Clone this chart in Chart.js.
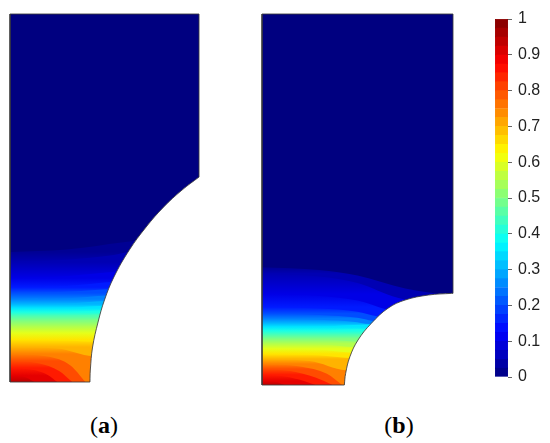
<!DOCTYPE html>
<html><head><meta charset="utf-8">
<script src="https://cdn.jsdelivr.net/npm/chart.js@4.4.1/dist/chart.umd.min.js"></script>
<style>
html,body{margin:0;padding:0;background:#fff;width:550px;height:443px;overflow:hidden;}
canvas{position:absolute;}
.lab{position:absolute;font-family:"Liberation Serif","DejaVu Serif",serif;font-size:24px;line-height:28px;color:#000;transform:translateX(-50%);white-space:nowrap;}
</style></head><body>
<canvas id="ca" width="191" height="370" style="left:9px;top:13px"></canvas>
<canvas id="cb" width="193" height="373" style="left:261px;top:13px"></canvas>
<canvas id="cc" width="58" height="376" style="left:495px;top:10px"></canvas>
<div class="lab" style="left:104px;top:411px">(<b>a</b>)</div>
<div class="lab" style="left:399px;top:411px">(<b>b</b>)</div>
<script>
// contour levels (value of each iso-line)
const levels = [0.02,0.05,0.10,0.15,0.20,0.25,0.30,0.35,0.40,0.45,0.50,0.55,0.60,0.65,0.70,0.75,0.80,0.85,0.90];
const peakValue = 0.94;

// panel (a): iso-lines, [x, y] in domain units (x 0..1, y 0..2), one list per level
const contoursA = [
  [[0,0.707],[0.3,0.72],[0.6,0.76],[1,0.80]],
  [[0,0.652],[0.3,0.665],[0.55,0.69],[0.65,0.71],[1,0.75]],
  [[0,0.565],[0.3,0.575],[0.58,0.60],[1,0.62]],
  [[0,0.515],[0.3,0.522],[0.55,0.545],[1,0.56]],
  [[0,0.484],[0.3,0.49],[0.53,0.505],[1,0.52]],
  [[0,0.451],[0.3,0.455],[0.52,0.47],[1,0.48]],
  [[0,0.424],[0.3,0.427],[0.51,0.44],[1,0.45]],
  [[0,0.402],[0.3,0.404],[0.5,0.415],[1,0.42]],
  [[0,0.380],[0.3,0.381],[0.5,0.39],[1,0.40]],
  [[0,0.359],[0.3,0.36],[0.49,0.367],[1,0.37]],
  [[0,0.332],[0.3,0.333],[0.48,0.34],[1,0.345]],
  [[0,0.300],[0.3,0.300],[0.47,0.305],[1,0.31]],
  [[0,0.266],[0.3,0.265],[0.46,0.265],[1,0.265]],
  [[0,0.230],[0.3,0.226],[0.45,0.22],[1,0.22]],
  [[0,0.190],[0.25,0.182],[0.44,0.14],[1,0.13]],
  [[0,0.152],[0.2,0.138],[0.32,0.09],[0.4,0]],
  [[0,0.114],[0.15,0.102],[0.26,0.06],[0.33,0]],
  [[0,0.076],[0.12,0.066],[0.2,0.038],[0.25,0]],
  [[0,0.035],[0.07,0.03],[0.13,0]]
];
// panel (a): hole boundary
const holeA = [[0.423,0],[0.425,0.065],[0.437,0.19],[0.466,0.326],[0.500,0.446],[0.550,0.571],[0.631,0.717],[0.720,0.842],[0.813,0.951],[0.910,1.043],[1,1.114]];

// panel (b): iso-lines
const contoursB = [
  [[0,0.635],[0.3,0.62],[0.5,0.59],[0.75,0.52],[1,0.48]],
  [[0,0.600],[0.3,0.585],[0.5,0.55],[0.71,0.47],[1,0.42]],
  [[0,0.490],[0.3,0.48],[0.5,0.455],[0.66,0.405],[1,0.35]],
  [[0,0.420],[0.3,0.412],[0.5,0.395],[0.6,0.37],[1,0.30]],
  [[0,0.385],[0.3,0.378],[0.5,0.362],[0.58,0.345],[1,0.28]],
  [[0,0.358],[0.3,0.352],[0.5,0.338],[0.56,0.325],[1,0.26]],
  [[0,0.334],[0.3,0.333],[0.54,0.33],[1,0.28]],
  [[0,0.313],[0.3,0.315],[0.54,0.325],[1,0.30]],
  [[0,0.292],[0.3,0.293],[0.52,0.30],[1,0.30]],
  [[0,0.270],[0.3,0.27],[0.5,0.272],[1,0.27]],
  [[0,0.248],[0.3,0.247],[0.49,0.235],[1,0.23]],
  [[0,0.222],[0.3,0.22],[0.48,0.205],[1,0.20]],
  [[0,0.195],[0.3,0.19],[0.47,0.175],[1,0.17]],
  [[0,0.167],[0.3,0.16],[0.46,0.145],[1,0.14]],
  [[0,0.140],[0.25,0.13],[0.44,0.08],[1,0.07]],
  [[0,0.113],[0.2,0.10],[0.34,0.06],[0.42,0]],
  [[0,0.086],[0.15,0.075],[0.28,0.04],[0.37,0]],
  [[0,0.055],[0.12,0.046],[0.22,0.022],[0.28,0]],
  [[0,0.022],[0.07,0.018],[0.12,0]]
];
// panel (b): hole boundary
const holeB = [[0.431,0],[0.438,0.063],[0.46,0.152],[0.503,0.243],[0.573,0.333],[0.66,0.414],[0.749,0.458],[0.871,0.485],[0.993,0.494],[1,0.494]];

// colour bar
const colorbarLevels = [0,0.025,0.05,0.075,0.10,0.125,0.15,0.175,0.20,0.225,0.25,0.275,0.30,0.325,0.35,0.375,0.40,0.425,0.45,0.475,
  0.50,0.525,0.55,0.575,0.60,0.625,0.65,0.675,0.70,0.725,0.75,0.775,0.80,0.825,0.85,0.875,0.90,0.925,0.95,0.975,1];
const colorbarTicks = [0,0.1,0.2,0.3,0.4,0.5,0.6,0.7,0.8,0.9,1];

function jet(v){
  const c = t => Math.round(255*Math.max(0,Math.min(1,1.5-Math.abs(4*v-t))));
  return 'rgb('+c(3)+','+c(2)+','+c(1)+')';
}
const toXY = pts => pts.map(p => ({x:p[0], y:p[1]}));
const edge = 'rgba(60,60,60,0.85)';

function bandFill(contours, i){
  const vTop = levels[i];
  const vBot = i+1 < levels.length ? levels[i+1] : peakValue;
  const yTop = contours[i][0][1];
  const yBot = i+1 < contours.length ? contours[i+1][0][1] : 0;
  return ctx => {
    const chart = ctx.chart;
    if (!chart.chartArea || !chart.scales.y) return jet(vTop);
    const ys = chart.scales.y;
    const g = chart.ctx.createLinearGradient(0, ys.getPixelForValue(yTop), 0, ys.getPixelForValue(yBot));
    g.addColorStop(0, jet(vTop));
    g.addColorStop(1, jet(vBot));
    return g;
  };
}

function panel(id, contours, hole){
  const ds = [];
  ds.push({data:[{x:0,y:2},{x:1,y:2}], fill:'origin', backgroundColor:jet(0), borderWidth:0, pointRadius:0, order:1000});
  contours.forEach((pts,i) => {
    ds.push({data:toXY(pts), fill:'origin', backgroundColor:bandFill(contours,i), borderWidth:0, pointRadius:0,
             cubicInterpolationMode:'monotone', order:900-i});
  });
  ds.push({data:toXY(hole), fill:'origin', backgroundColor:'#ffffff', borderColor:edge, borderWidth:1, pointRadius:0,
           tension:0.4, order:2, clip:false});
  const top = hole[hole.length-1];
  ds.push({data:[{x:1,y:top[1]},{x:1,y:2},{x:0,y:2},{x:0,y:0},{x:hole[0][0],y:0}], fill:false, borderColor:edge,
           borderWidth:1, pointRadius:0, tension:0, order:1, clip:false});
  new Chart(document.getElementById(id), {
    type:'line',
    data:{datasets:ds},
    options:{responsive:false, animation:false, events:[], layout:{padding:1},
      plugins:{legend:{display:false}, tooltip:{enabled:false}},
      scales:{x:{type:'linear', min:0, max:1, display:false}, y:{type:'linear', min:0, max:2, display:false}}}
  });
}
panel('ca', contoursA, holeA);
panel('cb', contoursB, holeB);

const cbSets = [];
for (let i=0;i<colorbarLevels.length-1;i++){
  const lo = colorbarLevels[i], hi = colorbarLevels[i+1];
  cbSets.push({data:[[lo,hi]], backgroundColor:jet((lo+hi)/2), borderColor:jet((lo+hi)/2), borderWidth:0.5,
               borderSkipped:false, barPercentage:1, categoryPercentage:1});
}
new Chart(document.getElementById('cc'), {
  type:'bar',
  data:{labels:[''], datasets:cbSets},
  options:{responsive:false, animation:false, events:[], layout:{padding:{top:9,bottom:9,left:0,right:0}},
    plugins:{legend:{display:false}, tooltip:{enabled:false}},
    scales:{
      x:{type:'category', stacked:true, display:false},
      y:{type:'linear', min:0, max:1, position:'right',
         afterBuildTicks: s => { s.ticks = colorbarTicks.map(v => ({value:v})); },
         ticks:{callback: v => String(v), font:{family:'"Liberation Sans", Arial, sans-serif', size:16}, color:'#222', padding:6},
         grid:{drawOnChartArea:false, drawTicks:true, tickLength:4, color:'#666'},
         border:{display:false},
         afterFit: s => { s.width = 45; s.paddingTop = 0; s.paddingBottom = 0; }}
    }}
});
</script>
</body></html>
